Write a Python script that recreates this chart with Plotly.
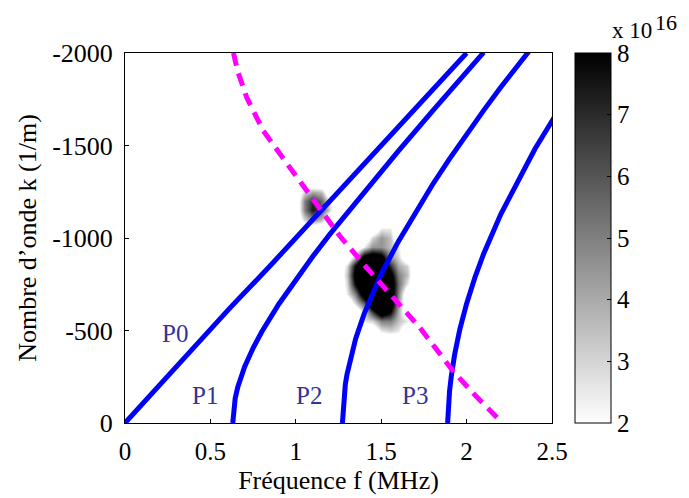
import plotly.graph_objects as go

# ---- data ----
p0_f = [0, 0.2, 0.4, 0.615, 0.85, 1.05, 1.26, 1.45, 1.65, 1.85, 2.0]
p0_k = [0, -205, -410, -622, -850, -1050, -1258, -1450, -1655, -1850, -2000]

p1_f = [0.631, 0.635, 0.645, 0.66, 0.68, 0.70, 0.75, 0.80, 0.90, 1.00, 1.10, 1.20, 1.40, 1.60, 1.80, 2.00, 2.10]
p1_k = [0, -71, -133, -193, -253, -303, -405, -492, -642, -776, -901, -1021, -1250, -1470, -1686, -1898, -2003]

p2_f = [1.273, 1.28, 1.29, 1.30, 1.32, 1.35, 1.40, 1.45, 1.50, 1.60, 1.70, 1.80, 1.90, 2.00, 2.10, 2.20, 2.30, 2.37]
p2_k = [0, -134, -209, -264, -349, -455, -590, -705, -805, -980, -1140, -1288, -1428, -1562, -1690, -1815, -1935, -2015]

p3_f = [1.889, 1.892, 1.90, 1.91, 1.93, 1.96, 2.00, 2.05, 2.10, 2.20, 2.30, 2.40, 2.50, 2.52]
p3_k = [0, -90, -170, -250, -370, -505, -645, -790, -915, -1128, -1312, -1481, -1632, -1662]

mag_f = [0.635, 0.66, 0.713, 0.81, 0.946, 1.10, 1.257, 1.40, 1.568, 1.724, 1.918, 2.05, 2.21]
mag_k = [-2000, -1900, -1759, -1579, -1405, -1205, -1012, -855, -682, -518, -284, -150, 0]

# heat map patches (values x 1e16)
big_f = [1.25, 1.30, 1.35, 1.40, 1.45, 1.50, 1.55, 1.60, 1.65, 1.70, 1.75]
big_k = [-1100, -1050, -1000, -950, -900, -850, -800, -750, -700, -650, -600, -550, -500, -450, -400]
big_z = [
    [0, 0, 0, 0, 0, 0, 0, 0, 0, 0, 0],
    [0, 0, 0, 0, 0, 2.5, 2.5, 0, 0, 0, 0],
    [0, 0, 0, 0, 3.0, 4.5, 3.5, 0, 0, 0, 0],
    [0, 0, 0, 2.5, 4.5, 4.5, 3.5, 2.5, 0, 0, 0],
    [0, 0, 3.5, 9.0, 10.0, 9.0, 4.5, 3.0, 0, 0, 0],
    [0, 3.0, 8.0, 12.0, 12.0, 11.0, 7.0, 4.0, 3.0, 0, 0],
    [0, 3.5, 9.0, 12.0, 12.0, 12.0, 9.0, 5.0, 3.5, 0, 0],
    [0, 3.0, 8.0, 12.0, 12.0, 12.0, 10.0, 5.5, 2.5, 0, 0],
    [0, 2.5, 5.0, 10.0, 12.0, 12.0, 10.0, 5.0, 0, 0, 0],
    [0, 0, 3.0, 6.0, 11.0, 12.0, 10.0, 4.5, 0, 0, 0],
    [0, 0, 0, 3.0, 6.5, 10.0, 8.0, 4.0, 0, 0, 0],
    [0, 0, 0, 2.5, 3.0, 5.0, 5.0, 3.5, 2.5, 0, 0],
    [0, 0, 0, 0, 0, 2.5, 3.0, 2.5, 0, 0, 0],
    [0, 0, 0, 0, 0, 0, 0, 0, 0, 0, 0],
    [0, 0, 0, 0, 0, 0, 0, 0, 0, 0, 0],
]

small_f = [1.00, 1.05, 1.10, 1.15, 1.20, 1.25]
small_k = [-1300, -1250, -1200, -1150, -1100, -1050]
small_z = [
    [0, 0, 0, 0, 0, 0],
    [0, 3.0, 4.0, 3.5, 0, 0],
    [0, 5.0, 7.0, 5.5, 2.5, 0],
    [0, 5.0, 7.5, 6.0, 3.0, 0],
    [0, 3.0, 4.5, 3.5, 0, 0],
    [0, 0, 0, 0, 0, 0],
]

x_ticks = [0, 0.5, 1, 1.5, 2, 2.5]
x_ticktext = ["0", "0.5", "1", "1.5", "2", "2.5"]
y_ticks = [0, -500, -1000, -1500, -2000]
y_ticktext = ["0", "-500", "-1000", "-1500", "-2000"]
cb_ticks = [2, 3, 4, 5, 6, 7, 8]

labels = ["P0", "P1", "P2", "P3"]
label_f = [0.29, 0.47, 1.08, 1.70]
label_k = [-485, -150, -150, -150]

FONT = "Liberation Serif"
gray = [[0, "white"], [1, "black"]]

fig = go.Figure()
cb = dict(
    tickvals=cb_ticks, ticktext=[str(v) for v in cb_ticks],
    thickness=36, len=1.0, lenmode="fraction", y=0.5, yanchor="middle",
    x=1.055, xanchor="left", xpad=0, ypad=0,
    outlinecolor="black", outlinewidth=1,
    ticks="inside", ticklen=4, tickcolor="black",
    tickfont=dict(family=FONT, size=25, color="black"),
)
fig.add_trace(go.Heatmap(x=big_f, y=big_k, z=big_z, zmin=2, zmax=8, colorscale=gray,
                         zsmooth="best", colorbar=cb, showscale=True, hoverinfo="skip"))
fig.add_trace(go.Heatmap(x=small_f, y=small_k, z=small_z, zmin=2, zmax=8, colorscale=gray,
                         zsmooth="best", showscale=False, hoverinfo="skip"))

for fx, kx in [(p0_f, p0_k), (p1_f, p1_k), (p2_f, p2_k), (p3_f, p3_k)]:
    fig.add_trace(go.Scatter(x=fx, y=kx, mode="lines", line=dict(color="#0000ff", width=5),
                             showlegend=False, hoverinfo="skip"))
fig.add_trace(go.Scatter(x=mag_f, y=mag_k, mode="lines",
                         line=dict(color="#ff00ff", width=5, dash="13px,8px"),
                         showlegend=False, hoverinfo="skip"))

for t, fx, kx in zip(labels, label_f, label_k):
    fig.add_annotation(x=fx, y=kx, text=t, showarrow=False,
                       font=dict(family=FONT, size=25, color="#333399"))

fig.add_annotation(xref="paper", yref="paper", x=1.135, y=1.062, xanchor="left", yanchor="middle",
                   text="x 10", showarrow=False, font=dict(family=FONT, size=23, color="black"))
fig.add_annotation(xref="paper", yref="paper", x=1.236, y=1.082, xanchor="left", yanchor="middle",
                   text="16", showarrow=False, font=dict(family=FONT, size=22, color="black"))

axis_common = dict(showgrid=False, zeroline=False, showline=True, linecolor="black", linewidth=1,
                   mirror=True, ticks="inside", ticklen=4, tickcolor="black", ticklabelstandoff=6)
fig.update_xaxes(range=[0, 2.5], tickvals=x_ticks, ticktext=x_ticktext,
                 tickfont=dict(family=FONT, size=25, color="black"),
                 title=dict(text="Fréquence f (MHz)", font=dict(family=FONT, size=26, color="black"), standoff=6),
                 **axis_common)
fig.update_yaxes(range=[0, -2000], tickvals=y_ticks, ticktext=y_ticktext,
                 tickfont=dict(family=FONT, size=26, color="black"),
                 title=dict(text="Nombre d’onde k (1/m)", font=dict(family=FONT, size=26, color="black"), standoff=8),
                 **axis_common)

# page has an 8px body margin: figure is 681x490 so that it fills the 689x498 window
fig.update_layout(width=681, height=490,
                  margin=dict(l=116.5, r=136.7, t=44.5, b=74.8, autoexpand=False),
                  plot_bgcolor="white", paper_bgcolor="white", showlegend=False)
fig.write_html("out.html")
